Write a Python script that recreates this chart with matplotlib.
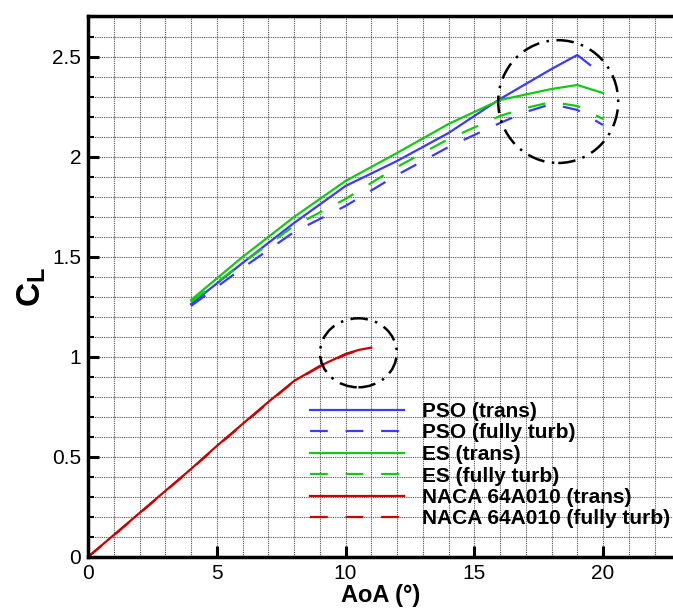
import numpy as np
import matplotlib
matplotlib.use("Agg")
import matplotlib.pyplot as plt
from matplotlib.patches import Ellipse
from matplotlib.ticker import MultipleLocator

plt.rcParams['font.family'] = ['Liberation Sans', 'DejaVu Sans']
plt.rcParams['mathtext.fontset'] = 'custom'
plt.rcParams['mathtext.rm'] = 'Liberation Sans'
plt.rcParams['mathtext.bf'] = 'Liberation Sans:bold'

# PSO / ES optimised airfoils
aoa_opt = [4, 6, 8, 10, 12, 14, 16, 18, 19]
pso_trans = [1.265, 1.47, 1.67, 1.855, 1.98, 2.12, 2.29, 2.44, 2.51]
pso_trans_aoa = aoa_opt + [19.5]
pso_trans_cl = pso_trans + [2.46]

aoa_es = [4, 6, 8, 10, 12, 14, 16, 18, 19, 20]
es_trans = [1.285, 1.50, 1.70, 1.88, 2.02, 2.165, 2.285, 2.34, 2.36, 2.32]

aoa_turb = [4, 6, 8, 10, 12, 14, 16, 17, 18, 19, 20]
pso_turb = [1.255, 1.445, 1.625, 1.755, 1.91, 2.05, 2.17, 2.225, 2.265, 2.235, 2.16]
es_turb = [1.275, 1.47, 1.655, 1.79, 1.95, 2.09, 2.205, 2.245, 2.275, 2.255, 2.19]

# baseline NACA 64A010
aoa_naca = [0, 1, 2, 3, 4, 5, 6, 7, 8, 9, 10, 10.5, 11]
naca_trans = [0, 0.11, 0.22, 0.33, 0.44, 0.555, 0.665, 0.775, 0.88, 0.955, 1.015, 1.035, 1.047]
naca_turb = [0, 0.108, 0.218, 0.328, 0.438, 0.553, 0.662, 0.772, 0.878, 0.952, 1.012, 1.033, 1.045]

blue = '#3a3aff'
green = '#14c814'
red = '#cc0000'
dash = (0, (8, 8))

fig = plt.figure(figsize=(6.73, 6.10), dpi=100)
ax = fig.add_axes([88 / 673, 53 / 610, 585 / 673, 541 / 610])

ax.plot(pso_trans_aoa, pso_trans_cl, color=blue, lw=1.6, label='PSO (trans)')
ax.plot(aoa_turb, pso_turb, color=blue, lw=1.6, ls=dash, label='PSO (fully turb)')
ax.plot(aoa_es, es_trans, color=green, lw=1.6, label='ES (trans)')
ax.plot(aoa_turb, es_turb, color=green, lw=1.6, ls=dash, label='ES (fully turb)')
ax.plot(aoa_naca, naca_trans, color=red, lw=1.6, label='NACA 64A010 (trans)')
ax.plot(aoa_naca, naca_turb, color=red, lw=1.6, ls=dash, label='NACA 64A010 (fully turb)')

# highlight circles
for (cx, cy, w, h) in [(18.26, 2.277, 4.66, 0.614), (10.5, 1.021, 2.98, 0.345)]:
    ax.add_patch(Ellipse((cx, cy), w, h, fill=False, color='black', lw=1.8,
                         ls=(0, (7, 3, 1, 3)), zorder=5))

ax.set_xlim(0, 585 / 25.75)
ax.set_ylim(0, 2.705)
ax.xaxis.set_minor_locator(MultipleLocator(1))
ax.yaxis.set_minor_locator(MultipleLocator(0.1))
ax.set_xticks([0, 5, 10, 15, 20])
ax.set_xticklabels(['0', '5', '10', '15', '20'])
ax.set_yticks([0, 0.5, 1, 1.5, 2, 2.5])
ax.set_yticklabels(['0', '0.5', '1', '1.5', '2', '2.5'])

ax.grid(which='both', color='0.3', ls=(0, (1, 1)), lw=0.8)
ax.set_axisbelow(True)

ax.tick_params(which='major', direction='in', length=8, width=2.2, labelsize=15, pad=5)
ax.tick_params(axis='x', which='minor', length=0)
ax.tick_params(axis='y', which='minor', direction='in', length=4, width=1.5)
for side in ['left', 'bottom', 'top']:
    ax.spines[side].set_linewidth(2.5)
ax.spines['right'].set_visible(False)

ax.set_xlabel('AoA (°)', fontsize=17, fontweight='bold', labelpad=1)
ax.set_ylabel(r'$\mathbf{C}_\mathbf{L}$', fontsize=24, labelpad=3)

leg = ax.legend(loc='upper left', bbox_to_anchor=(222 / 585, 1 - 386 / 541),
                frameon=False, fontsize=15, handlelength=4.5, handletextpad=0.9,
                labelspacing=0.12, borderpad=0, borderaxespad=0)
for t in leg.get_texts():
    t.set_fontweight('bold')

fig.savefig('out.png', dpi=100)
